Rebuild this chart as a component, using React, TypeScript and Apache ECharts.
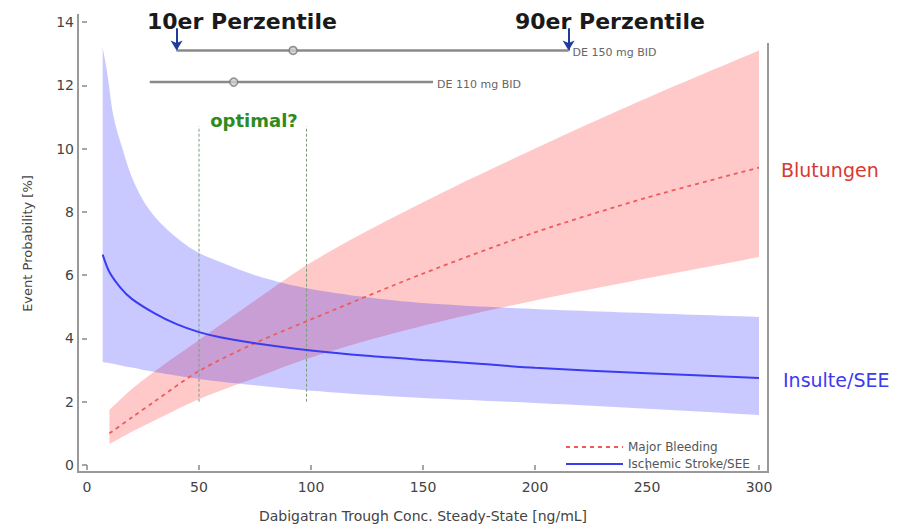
import React, { useEffect, useRef } from 'react';
import * as echarts from 'echarts';

// Ischemic stroke / SEE (blue) confidence band and curve
const strokeBandX = [7, 9, 11.6, 16, 20, 27, 36, 50, 60, 75, 95, 125, 150, 200, 250, 300];
const strokeBandLow = [3.25, 3.23, 3.2, 3.13, 3.08, 2.98, 2.87, 2.72, 2.63, 2.52, 2.38, 2.22, 2.12, 1.96, 1.78, 1.58];
const strokeBandHigh = [13.2, 12.4, 11.1, 9.96, 9.1, 8.15, 7.43, 6.7, 6.4, 6.0, 5.63, 5.3, 5.12, 4.93, 4.8, 4.68];
const strokeLineX = [7, 10, 15, 20, 30, 40, 50, 60, 75, 100, 125, 150, 175, 200, 250, 300];
const strokeLineY = [6.65, 6.1, 5.6, 5.25, 4.8, 4.45, 4.2, 4.03, 3.85, 3.62, 3.45, 3.32, 3.2, 3.07, 2.9, 2.75];

// Major bleeding (red) confidence band and curve
const bleedX = [10, 20, 30, 50, 75, 100, 150, 200, 250, 300];
const bleedLow = [0.66, 1.05, 1.4, 2.08, 2.75, 3.4, 4.4, 5.2, 5.9, 6.57];
const bleedHigh = [1.75, 2.4, 2.95, 3.95, 5.2, 6.4, 8.3, 10.0, 11.6, 13.1];
const bleedMid = [1.0, 1.5, 2.0, 2.97, 3.85, 4.6, 6.05, 7.35, 8.45, 9.4];

// Dose ranges (10th percentile, median, 90th percentile)
const doseLabels = ['DE 150 mg BID', 'DE 110 mg BID'];
const doseLow = [40, 28];
const doseMedian = [92, 65.5];
const doseHigh = [215, 154.5];
const doseY = [13.1, 12.1];
const arrowTopY = 13.8;

// "optimal?" window
const optimalX = [50, 98];
const optimalY = [2.0, 10.7];

const seriesNames = ['Major Bleeding', 'Ischemic Stroke/SEE'];
const percentileLabels = ['10er Perzentile', '90er Perzentile'];
const sideLabels = ['Blutungen', 'Insulte/SEE'];
const axisNames = ['Dabigatran Trough Conc. Steady-State [ng/mL]', 'Event Probability [%]'];

const FONT = '"DejaVu Sans", "Liberation Sans", sans-serif';

// Monotone cubic (Fritsch–Carlson) smoothing of pixel points, for drawing only
function smoothPixels(pts: number[][], steps = 12): number[][] {
  const n = pts.length;
  if (n < 3) return pts;
  const dx: number[] = [];
  const m: number[] = [];
  for (let i = 0; i < n - 1; i++) {
    dx[i] = pts[i + 1][0] - pts[i][0];
    m[i] = (pts[i + 1][1] - pts[i][1]) / dx[i];
  }
  const t: number[] = new Array(n);
  t[0] = m[0];
  t[n - 1] = m[n - 2];
  for (let i = 1; i < n - 1; i++) {
    if (m[i - 1] * m[i] <= 0) t[i] = 0;
    else {
      const w1 = 2 * dx[i] + dx[i - 1];
      const w2 = dx[i] + 2 * dx[i - 1];
      t[i] = (w1 + w2) / (w1 / m[i - 1] + w2 / m[i]);
    }
  }
  const out: number[][] = [];
  for (let i = 0; i < n - 1; i++) {
    const h = dx[i];
    for (let s = 0; s < steps; s++) {
      const u = s / steps;
      const u2 = u * u;
      const u3 = u2 * u;
      const h00 = 2 * u3 - 3 * u2 + 1;
      const h10 = u3 - 2 * u2 + u;
      const h01 = -2 * u3 + 3 * u2;
      const h11 = u3 - u2;
      out.push([
        pts[i][0] + u * h,
        h00 * pts[i][1] + h10 * h * t[i] + h01 * pts[i + 1][1] + h11 * h * t[i + 1],
      ]);
    }
  }
  out.push(pts[n - 1]);
  return out;
}

function bandSeries(name: string, xs: number[], low: number[], high: number[], fill: string) {
  return {
    type: 'custom',
    name,
    silent: true,
    clip: true,
    data: [0],
    z: 2,
    renderItem: (_params: any, api: any) => {
      const up = smoothPixels(xs.map((x, i) => api.coord([x, high[i]])));
      const lo = smoothPixels(xs.map((x, i) => api.coord([x, low[i]]))).reverse();
      return {
        type: 'polygon',
        shape: { points: up.concat(lo) },
        style: { fill, stroke: 'none' },
      };
    },
  };
}

export default function App() {
  const ref = useRef<HTMLDivElement>(null);

  useEffect(() => {
    if (!ref.current) return;
    const chart = echarts.init(ref.current, undefined, { renderer: 'svg' });

    const zip = (xs: number[], ys: number[]) => xs.map((x, i) => [x, ys[i]]);

    const doseSeries: any[] = doseLabels.map((lab, i) => ({
      type: 'line',
      name: lab,
      data: [
        [doseLow[i], doseY[i]],
        [doseHigh[i], doseY[i]],
      ],
      symbol: 'none',
      silent: true,
      z: 5,
      lineStyle: { color: '#8a8a8a', width: 2.5 },
      endLabel: {
        show: true,
        formatter: lab,
        color: '#666',
        fontSize: 11,
        fontFamily: FONT,
        distance: 4,
        offset: [0, 2],
      },
      markLine:
        i === 0
          ? {
              silent: true,
              symbol: ['none', 'arrow'],
              symbolSize: [9, 10],
              label: { show: false },
              lineStyle: { color: '#1f3b9b', width: 2, type: 'solid' },
              data: [
                [{ coord: [doseLow[0], arrowTopY] }, { coord: [doseLow[0], doseY[0]] }],
                [{ coord: [doseHigh[0], arrowTopY] }, { coord: [doseHigh[0], doseY[0]] }],
              ],
            }
          : undefined,
    }));

    const option: any = {
      animation: false,
      grid: { left: 87, right: 145, top: 22, bottom: 64, containLabel: false },
      xAxis: {
        type: 'value',
        min: 0,
        max: 300,
        interval: 50,
        offset: 7,
        axisLine: { show: false },
        axisTick: { show: true, length: 5, lineStyle: { color: '#888', width: 1.5 } },
        axisLabel: { margin: 8, fontFamily: FONT, fontSize: 14, color: '#444' },
        splitLine: { show: false },
        name: axisNames[0],
        nameLocation: 'middle',
        nameGap: 37,
        nameTextStyle: { fontFamily: FONT, fontSize: 14, color: '#444' },
      },
      yAxis: {
        type: 'value',
        min: 0,
        max: 14,
        interval: 2,
        offset: 9,
        axisLine: { show: false },
        axisTick: { show: true, length: 5, lineStyle: { color: '#888', width: 1.5 } },
        axisLabel: { margin: 4, fontFamily: FONT, fontSize: 14, color: '#444' },
        splitLine: { show: false },
        name: axisNames[1],
        nameLocation: 'middle',
        nameGap: 44,
        nameTextStyle: { fontFamily: FONT, fontSize: 13, color: '#444' },
      },
      legend: {
        data: seriesNames,
        orient: 'vertical',
        left: 560,
        top: 436,
        itemWidth: 57,
        itemHeight: 12,
        itemGap: 5,
        itemStyle: { opacity: 0 },
        textStyle: { fontFamily: FONT, fontSize: 12, color: '#555' },
        selectedMode: false,
      },
      series: [
        bandSeries('bleedBand', bleedX, bleedLow, bleedHigh, 'rgba(255,0,0,0.21)'),
        bandSeries('strokeBand', strokeBandX, strokeBandLow, strokeBandHigh, 'rgba(0,0,255,0.21)'),
        ...optimalX.map((x, i) => ({
          type: 'line',
          name: 'optimal' + i,
          data: [
            [x, optimalY[0]],
            [x, optimalY[1]],
          ],
          symbol: 'none',
          silent: true,
          z: 3,
          lineStyle: { color: '#7a9e78', width: 1, type: [3, 2] },
        })),
        {
          type: 'line',
          name: seriesNames[0],
          data: zip(bleedX, bleedMid),
          symbol: 'none',
          smooth: 0.3,
          color: '#f05a5a',
          lineStyle: { color: '#f05a5a', width: 1.8, type: [4, 4] },
          z: 4,
        },
        {
          type: 'line',
          name: seriesNames[1],
          data: zip(strokeLineX, strokeLineY),
          symbol: 'none',
          smooth: 0.3,
          color: '#3b3bf2',
          lineStyle: { color: '#3b3bf2', width: 2 },
          z: 4,
        },
        ...doseSeries,
        {
          type: 'scatter',
          name: 'doseMedian',
          data: zip(doseMedian, doseY),
          symbol: 'circle',
          symbolSize: 8,
          silent: true,
          z: 6,
          itemStyle: { color: '#d0d0d0', borderColor: '#777', borderWidth: 1.5 },
        },
      ],
      graphic: [
        {
          type: 'polyline',
          silent: true,
          shape: {
            points: [
              [78, 14],
              [78, 472],
              [768, 472],
              [768, 43],
            ],
          },
          style: { stroke: '#999', lineWidth: 2, fill: 'none' },
        },
        {
          type: 'text',
          x: 147,
          y: 21,
          style: {
            text: percentileLabels[0],
            fill: '#1a1a1a',
            fontFamily: FONT,
            fontWeight: 'bold',
            fontSize: 22,
            verticalAlign: 'middle',
          },
        },
        {
          type: 'text',
          x: 515,
          y: 21,
          style: {
            text: percentileLabels[1],
            fill: '#1a1a1a',
            fontFamily: FONT,
            fontWeight: 'bold',
            fontSize: 22,
            verticalAlign: 'middle',
          },
        },
        {
          type: 'text',
          x: 254,
          y: 120,
          style: {
            text: 'optimal?',
            fill: '#2f8a22',
            fontFamily: FONT,
            fontWeight: 'bold',
            fontSize: 18,
            align: 'center',
            verticalAlign: 'middle',
          },
        },
        {
          type: 'text',
          x: 781,
          y: 170,
          style: {
            text: sideLabels[0],
            fill: '#d63a32',
            fontFamily: FONT,
            fontSize: 19,
            verticalAlign: 'middle',
          },
        },
        {
          type: 'text',
          x: 783,
          y: 380,
          style: {
            text: sideLabels[1],
            fill: '#3b3bf2',
            fontFamily: FONT,
            fontSize: 19,
            verticalAlign: 'middle',
          },
        },
      ],
    };

    chart.setOption(option);
    return () => chart.dispose();
  }, []);

  return (
    <div
      ref={ref}
      style={{ position: 'fixed', left: 0, top: 0, width: 904, height: 529, background: '#fff' }}
    />
  );
}
